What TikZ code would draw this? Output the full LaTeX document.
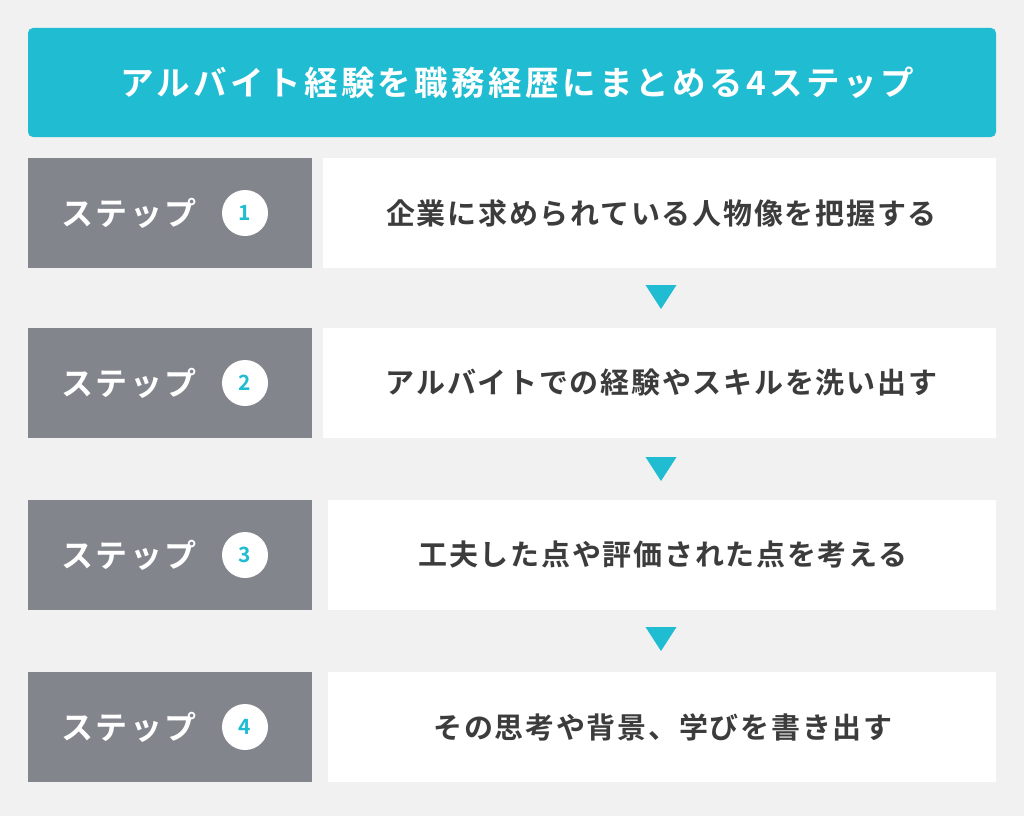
\documentclass[tikz,border=0pt]{standalone}
\usepackage{fontspec}
\setmainfont{Noto Sans CJK JP}[BoldFont={Noto Sans CJK JP Bold}]
\newfontfamily\titlefont{Noto Sans CJK JP Bold}[LetterSpace=10]
\newfontfamily\rowfont{Noto Sans CJK JP Bold}[LetterSpace=6]
\newfontfamily\stepfont{Noto Sans CJK JP Bold}[LetterSpace=8]
\newfontfamily\numfont{Noto Sans CJK JP Bold}
\definecolor{bgc}{HTML}{F1F1F1}
\definecolor{teal}{HTML}{1FBCD2}
\definecolor{stepgray}{HTML}{82858C}
\definecolor{txt}{HTML}{3C3C3C}
\tikzset{
  titlebox/.style={fill=teal, rounded corners=5pt, minimum width=968pt, minimum height=109pt, inner sep=0pt},
  titletext/.style={inner sep=0pt, text=white, font=\titlefont\fontsize{33.5}{40}\selectfont},
  stepbox/.style={fill=stepgray, minimum width=284pt, minimum height=110pt, inner sep=0pt},
  stepword/.style={text=white, inner sep=0pt, font=\stepfont\fontsize{32}{38}\selectfont},
  numcircle/.style={circle, fill=white, minimum size=46pt, inner sep=0pt, text=teal, font=\numfont\fontsize{21}{25}\selectfont},
  contentbox/.style={fill=white, minimum height=110pt, inner sep=0pt},
  contenttext/.style={inner sep=0pt, text=txt, font=\rowfont\fontsize{29}{34}\selectfont},
  arrowtri/.style={fill=teal},
}
\begin{document}
\begin{tikzpicture}[x=1pt,y=-1pt]
\fill[bgc] (0,0) rectangle (1024,816);
\useasboundingbox (0,0) rectangle (1024,816);
\node[titlebox] (title) at (512,82.5) {};
\node[titletext] (titlet) at ([xshift=5pt]title.center) {アルバイト経験を職務経歴にまとめる4ステップ};
% rows
\node[stepbox] (s1) at (170,213) {};
\node[stepbox] (s2) at (170,383) {};
\node[stepbox] (s3) at (170,555) {};
\node[stepbox] (s4) at (170,727) {};
\foreach \i in {1,2,3,4}{
  \node[stepword] (w\i) at ([xshift=-41pt]s\i.center) {ステップ};
  \node[numcircle] (n\i) at ([xshift=75pt]s\i.center) {\i};
}
\node[contentbox, minimum width=673pt] (c1) at (659.5,213) {};
\node[contentbox, minimum width=673pt] (c2) at (659.5,383) {};
\node[contentbox, minimum width=668pt] (c3) at (662,555) {};
\node[contentbox, minimum width=668pt] (c4) at (662,727) {};
\node[contenttext] (ct1) at ([xshift=2pt]c1.center) {企業に求められている人物像を把握する};
\node[contenttext] (ct2) at ([xshift=2pt]c2.center) {アルバイトでの経験やスキルを洗い出す};
\node[contenttext] (ct3) at ([xshift=1pt]c3.center) {工夫した点や評価された点を考える};
\node[contenttext] (ct4) at ([xshift=1pt]c4.center) {その思考や背景、学びを書き出す};
% triangles between rows
\coordinate (t1) at (661,285);
\coordinate (t2) at (661,457);
\coordinate (t3) at (661,627);
\foreach \t in {t1,t2,t3}{
  \fill[arrowtri] (\t) ++(-15.5,0) -- ++(31,0) -- ++(-15.5,24) -- cycle;
}
\end{tikzpicture}
\end{document}
